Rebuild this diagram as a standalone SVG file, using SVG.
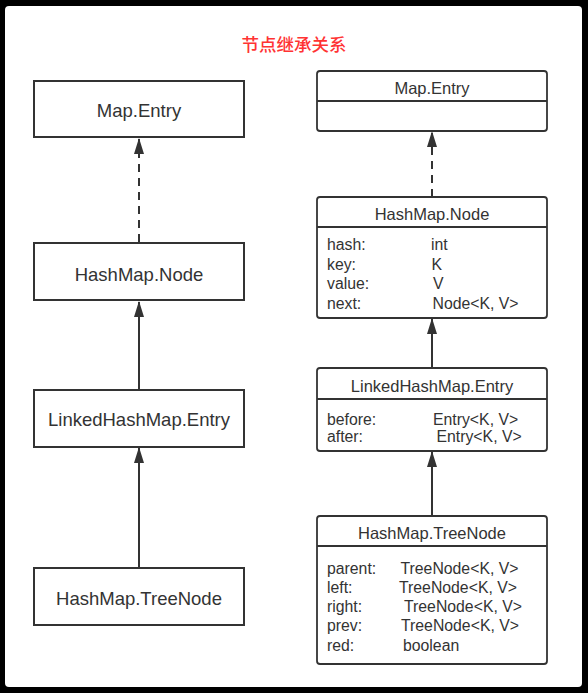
<svg xmlns="http://www.w3.org/2000/svg" width="588" height="693" viewBox="0 0 588 693">
  <style>
    text { font-family: "Liberation Sans", Arial, "Noto Sans CJK SC", sans-serif; fill: #333; }
    .lbox { fill: #fff; stroke: #333; stroke-width: 2; }
    .rbox { fill: #fff; stroke: #333; stroke-width: 1.8; }
    .div { stroke: #333; stroke-width: 1.8; }
    .ltitle { font-size: 18.5px; text-anchor: middle; }
    .rtitle { font-size: 16.5px; text-anchor: middle; }
    .row { font-size: 15.8px; }
    .edge { stroke: #333; stroke-width: 2; fill: none; }
    .dash { stroke-dasharray: 8 6; }
    .title { font-family: "Noto Sans CJK SC", "Liberation Sans", sans-serif; font-size: 17.5px; font-weight: 500; fill: #f33; text-anchor: middle; }
  </style>
  <defs>
    <marker id="arrow" markerWidth="16" markerHeight="10" refX="15" refY="5" orient="auto" markerUnits="userSpaceOnUse" viewBox="0 0 16 10">
      <path d="M0,0 L16,5 L0,10 Z" fill="#333"/>
    </marker>
  </defs>
  <rect x="0" y="0" width="588" height="693" fill="#000"/>
  <rect x="5" y="6" width="577" height="681" rx="4" fill="#fff"/>

  <text class="title" x="294" y="51">节点继承关系</text>

  <g id="connectors">
    <line class="edge dash" x1="139" y1="242" x2="139" y2="139" marker-end="url(#arrow)"/>
    <line class="edge" x1="139" y1="389" x2="139" y2="302" marker-end="url(#arrow)"/>
    <line class="edge" x1="139" y1="567" x2="139" y2="448" marker-end="url(#arrow)"/>
    <line class="edge dash" x1="432" y1="197" x2="432" y2="132" marker-end="url(#arrow)"/>
    <line class="edge" x1="432" y1="368" x2="432" y2="319" marker-end="url(#arrow)"/>
    <line class="edge" x1="432" y1="516" x2="432" y2="452" marker-end="url(#arrow)"/>
  </g>

  <g id="left-map-entry">
    <rect class="lbox" x="34" y="81" width="210" height="56"/>
    <text class="ltitle" x="139" y="117">Map.Entry</text>
  </g>
  <g id="left-hashmap-node">
    <rect class="lbox" x="34" y="243" width="210" height="57"/>
    <text class="ltitle" x="139" y="280.5">HashMap.Node</text>
  </g>
  <g id="left-linked-entry">
    <rect class="lbox" x="34" y="390" width="210" height="57"/>
    <text class="ltitle" x="139" y="426">LinkedHashMap.Entry</text>
  </g>
  <g id="left-treenode">
    <rect class="lbox" x="34" y="568" width="210" height="57"/>
    <text class="ltitle" x="139" y="605">HashMap.TreeNode</text>
  </g>

  <g id="right-map-entry">
    <rect class="rbox" x="317" y="71" width="230" height="60" rx="3"/>
    <line class="div" x1="317" y1="101" x2="547" y2="101"/>
    <text class="rtitle" x="432" y="94">Map.Entry</text>
  </g>
  <g id="right-hashmap-node">
    <rect class="rbox" x="317" y="197" width="230" height="121" rx="3"/>
    <line class="div" x1="317" y1="227" x2="547" y2="227"/>
    <text class="rtitle" x="432" y="219.5">HashMap.Node</text>
    <text class="row" x="327" y="250">hash:</text><text class="row" x="431" y="250">int</text>
    <text class="row" x="327" y="269.5">key:</text><text class="row" x="431.5" y="269.5">K</text>
    <text class="row" x="327" y="289">value:</text><text class="row" x="433" y="289">V</text>
    <text class="row" x="327" y="308.5">next:</text><text class="row" x="432.5" y="308.5">Node&lt;K, V&gt;</text>
  </g>
  <g id="right-linked-entry">
    <rect class="rbox" x="317" y="368" width="230" height="83" rx="3"/>
    <line class="div" x1="317" y1="399" x2="547" y2="399"/>
    <text class="rtitle" x="432" y="392">LinkedHashMap.Entry</text>
    <text class="row" x="327" y="425">before:</text><text class="row" x="433" y="425">Entry&lt;K, V&gt;</text>
    <text class="row" x="327" y="442">after:</text><text class="row" x="436.5" y="442">Entry&lt;K, V&gt;</text>
  </g>
  <g id="right-treenode">
    <rect class="rbox" x="317" y="516" width="230" height="148" rx="3"/>
    <line class="div" x1="317" y1="546" x2="547" y2="546"/>
    <text class="rtitle" x="432" y="538.5">HashMap.TreeNode</text>
    <text class="row" x="327" y="573.5">parent:</text><text class="row" x="400.5" y="573.5">TreeNode&lt;K, V&gt;</text>
    <text class="row" x="327" y="592.5">left:</text><text class="row" x="399" y="592.5">TreeNode&lt;K, V&gt;</text>
    <text class="row" x="327" y="612">right:</text><text class="row" x="404" y="612">TreeNode&lt;K, V&gt;</text>
    <text class="row" x="327" y="631">prev:</text><text class="row" x="401" y="631">TreeNode&lt;K, V&gt;</text>
    <text class="row" x="327" y="651">red:</text><text class="row" x="403" y="651">boolean</text>
  </g>
</svg>
